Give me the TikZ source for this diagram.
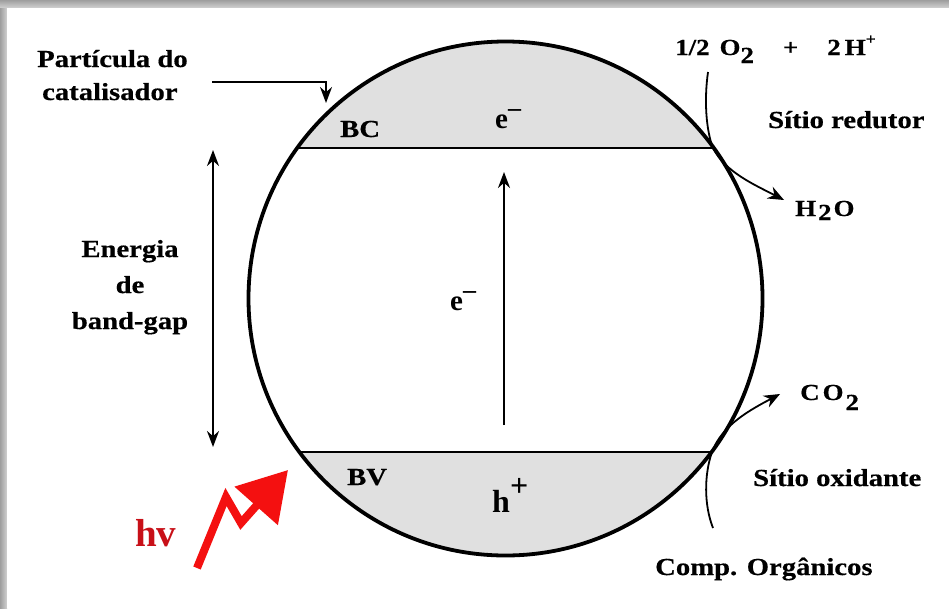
\documentclass[tikz,border=0pt]{standalone}
\usepackage{fontspec}
\setmainfont{Liberation Serif}[FakeStretch=1.17,BoldFeatures={FakeBold=0.5}]
\newfontfamily\plainserif{Liberation Serif}
\usetikzlibrary{arrows.meta}
\definecolor{bandgray}{RGB}{224,224,224}
\definecolor{hvred}{RGB}{200,16,24}
\definecolor{rayred}{RGB}{244,16,16}
\newcommand\lblfont{\bfseries\fontsize{24.5}{28}\selectfont}
\newcommand\chemfont{\bfseries\fontsize{23}{26}\selectfont}
\newcommand\lowerby[2]{\raisebox{-#1}{#2}}
\newcommand\raiseby[2]{\raisebox{#1}{#2}}
\begin{document}
\begin{tikzpicture}[x=1pt,y=-1pt,
  lbl/.style={font=\lblfont,inner sep=0pt,anchor=base west},
  chem/.style={font=\chemfont,inner sep=0pt,anchor=base west},
  carrier/.style={font=\plainserif\bfseries\fontsize{29}{30}\selectfont,inner sep=0pt,anchor=base west},
  conn/.style={line width=2pt,-{Stealth[length=16pt,width=12pt]}},
  dconn/.style={line width=2pt,{Stealth[length=16pt,width=12pt]}-{Stealth[length=16pt,width=12pt]}},
  flow/.style={line width=1.8pt,-{Stealth[length=16pt,width=13pt]}},
  chord/.style={line width=2.6pt},
]
\useasboundingbox (0,0) rectangle (949,608);
\shade[top color=black!38,bottom color=black!18] (0,0) rectangle (949,8);
\shade[left color=black!38,right color=black!18] (0,8) rectangle (7,608);
\fill[white] (7,8) rectangle (949,608);

% particle
\node[circle,minimum size=514pt,inner sep=0pt,outer sep=0pt] (particle) at (505.5,298.5) {};
\begin{scope}
  \clip (505.5,298.5) circle[radius=257pt];
  \fill[bandgray] (240,30) rectangle (780,148);
  \fill[bandgray] (240,452) rectangle (780,570);
  \draw[chord] (240,148) -- (780,148);
  \draw[chord] (240,452) -- (780,452);
\end{scope}
\draw[line width=3.8pt] (505.5,298.5) circle[radius=257pt];

% band labels
\node[lbl] (bc) at (340,137) {BC};
\node[lbl] (bv) at (347,485) {BV};
\node[carrier] (ecb) at (495,128) {e\raiseby{12pt}{\fontsize{26}{26}\selectfont –}};
\node[carrier] (emid) at (450,310) {e\raiseby{12pt}{\fontsize{26}{26}\selectfont –}};
\node[carrier,font=\plainserif\bfseries\fontsize{32}{34}\selectfont] (hvb) at (492,512) {h\raiseby{16pt}{+}};

% excitation arrow
\coordinate (excBot) at (504,425);
\coordinate (excTop) at (504,172);
\draw[conn] (excBot) -- (excTop);

% catalyst particle label
\node[lbl] (part1) at (37,67) {Partícula do};
\node[lbl] (part2) at (42,100) {catalisador};
\coordinate (partStart) at (212,82);
\coordinate (partTip) at (326,103);
\draw[conn] (partStart) -| (partTip);

% band gap
\node[lbl,anchor=base] (eng1) at (130,257) {Energia};
\node[lbl,anchor=base] (eng2) at (130,293) {de};
\node[lbl,anchor=base] (eng3) at (130,329) {band-gap};
\coordinate (gapTop) at (213,150);
\coordinate (gapBot) at (213,447);
\draw[dconn] (gapTop) -- (gapBot);

% light
\node[font=\plainserif\bfseries\fontsize{39}{40}\selectfont,text=hvred,inner sep=0pt,anchor=base west] (hv) at (135,546) {hv};
\coordinate (ray1) at (197,568);
\coordinate (ray2) at (226,497);
\coordinate (ray3) at (241,523);
\coordinate (rayTip) at (288,470);
\draw[rayred,line width=8pt,line join=miter,-{Triangle[length=48pt,width=56pt]}] (ray1) -- (ray2) -- (ray3) -- (rayTip);

% reduction site
\node[chem] (react) at (675,55) {1/2\hspace{10pt}O\lowerby{8pt}{2}\hspace{29pt}+\hspace{29pt}2\hspace{4pt}H\raiseby{11pt}{\fontsize{15}{15}\selectfont +}};
\node[lbl] (redut) at (768,128) {Sítio redutor};
\node[chem] (water) at (795,216) {H\hspace{2pt}\lowerby{4pt}{2}\hspace{2pt}O};
\coordinate (redA) at (708,72);
\coordinate (redB) at (713,148);
\coordinate (redTip) at (784,200);
\draw[flow] (redA) .. controls (704,100) and (706,130) .. (redB) .. controls (725,172) and (755,185) .. (redTip);

% oxidation site
\node[chem] (co2) at (800,400) {C\hspace{3pt}O\hspace{2pt}\lowerby{10pt}{2}};
\node[lbl] (oxid) at (753,486) {Sítio oxidante};
\node[lbl] (organ) at (655,575) {Comp. Orgânicos};
\coordinate (oxA) at (713,528);
\coordinate (oxB) at (712,452);
\coordinate (oxTip) at (780,394);
\draw[flow] (oxA) .. controls (704,505) and (704,475) .. (oxB) .. controls (722,425) and (750,410) .. (oxTip);
\end{tikzpicture}
\end{document}
